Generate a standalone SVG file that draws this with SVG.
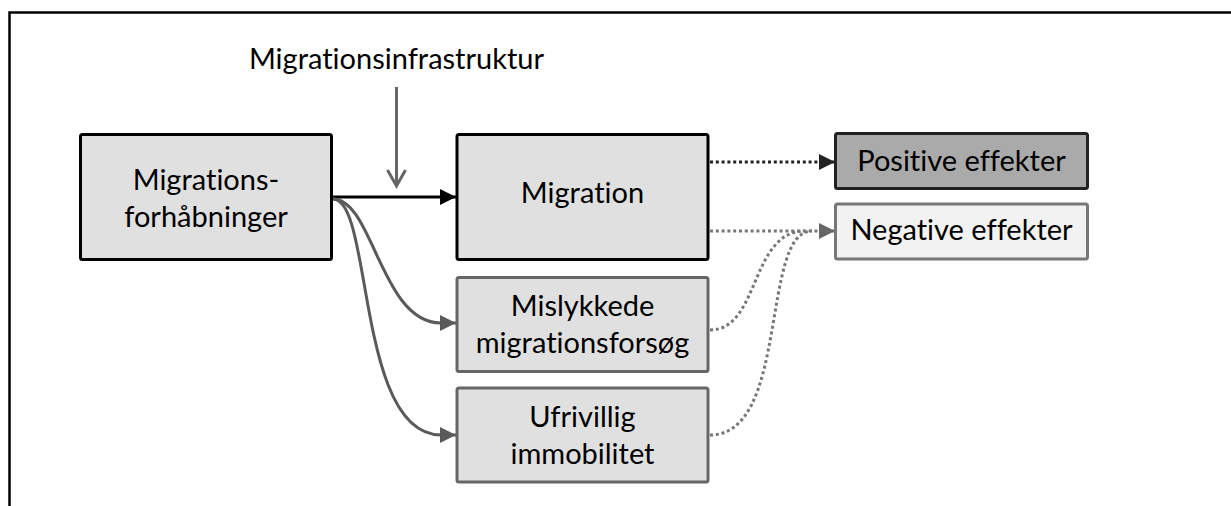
<svg xmlns="http://www.w3.org/2000/svg" width="1231" height="506" viewBox="0 0 1231 506">
<defs>
<style>
text{font-family:Lato,"Open Sans","Liberation Sans",sans-serif;font-size:29px;fill:#000;text-anchor:middle;font-variant-ligatures:none;font-feature-settings:"liga" 0,"clig" 0}
.box{fill:#e0e0e0;stroke:#000;stroke-width:3}
.boxg{fill:#e0e0e0;stroke:#666;stroke-width:3}
.pos{fill:#aaaaaa;stroke:#222;stroke-width:3}
.neg{fill:#f2f2f2;stroke:#777;stroke-width:3}
.solid{fill:none;stroke:#000;stroke-width:3}
.grey{fill:none;stroke:#5a5a5a;stroke-width:3}
.dotk{fill:none;stroke:#222;stroke-width:3;stroke-dasharray:3 2.8}
.dotg{fill:none;stroke:#777;stroke-width:3;stroke-dasharray:3 2.8}
</style>
<marker id="ak" viewBox="0 0 16 16" refX="16" refY="8" markerWidth="16" markerHeight="16" markerUnits="userSpaceOnUse" orient="auto"><path d="M0,0L16,8L0,16Z" fill="#000"/></marker>
<marker id="ag" viewBox="0 0 16 16" refX="16" refY="8" markerWidth="16" markerHeight="16" markerUnits="userSpaceOnUse" orient="auto"><path d="M0,0L16,8L0,16Z" fill="#5a5a5a"/></marker>
<marker id="agl" viewBox="0 0 16 16" refX="16" refY="8" markerWidth="16" markerHeight="16" markerUnits="userSpaceOnUse" orient="auto"><path d="M0,0L16,8L0,16Z" fill="#666"/></marker>
<marker id="akd" viewBox="0 0 16 16" refX="16" refY="8" markerWidth="16" markerHeight="16" markerUnits="userSpaceOnUse" orient="auto"><path d="M0,0L16,8L0,16Z" fill="#222"/></marker>
</defs>
<rect width="1231" height="506" fill="#fff"/>
<path d="M9.5,506V12.5H1231" fill="none" stroke="#000" stroke-width="2.5"/>
<g id="infra-label"><text x="396.5" y="69">Migrationsinfrastruktur</text></g>
<g id="connectors">
<path d="M396.5,87V185" fill="none" stroke="#666" stroke-width="3"/>
<path d="M387.5,170L396.5,186L405.5,170" fill="none" stroke="#666" stroke-width="3"/>
<path class="solid" d="M332,197H456" marker-end="url(#ak)"/>
<path class="grey" d="M333,199C373,199 381,323 441,323H456" marker-end="url(#ag)"/>
<path class="grey" d="M333,199C373,199 356,435 441,435H456" marker-end="url(#ag)"/>
<path class="dotk" d="M710,162H835" marker-end="url(#akd)"/>
<path class="dotg" d="M710,231H835" marker-end="url(#agl)"/>
<path class="dotg" d="M710,330C760,330 750,231 805,231"/>
<path class="dotg" d="M710,435C790,435 760,231 812,231"/>
</g>
<g id="n-hopes"><rect class="box" x="80.5" y="134.5" width="251" height="125" rx="2"/><text x="206" y="190">Migrations-</text><text x="206" y="227">forhåbninger</text></g>
<g id="n-migration"><rect class="box" x="457" y="134.5" width="251" height="125" rx="2"/><text x="582.5" y="203">Migration</text></g>
<g id="n-failed"><rect class="boxg" x="457" y="277.5" width="251" height="94" rx="2"/><text x="582.5" y="316">Mislykkede</text><text x="582.5" y="353">migrationsforsøg</text></g>
<g id="n-immobile"><rect class="boxg" x="457" y="388" width="251" height="94" rx="2"/><text x="582.5" y="427">Ufrivillig</text><text x="582.5" y="464">immobilitet</text></g>
<g id="n-positive"><rect class="pos" x="835.5" y="133.5" width="252" height="55" rx="2"/><text x="961.5" y="171">Positive effekter</text></g>
<g id="n-negative"><rect class="neg" x="835.5" y="204" width="252" height="55" rx="2"/><text x="961.5" y="240">Negative effekter</text></g>
</svg>
